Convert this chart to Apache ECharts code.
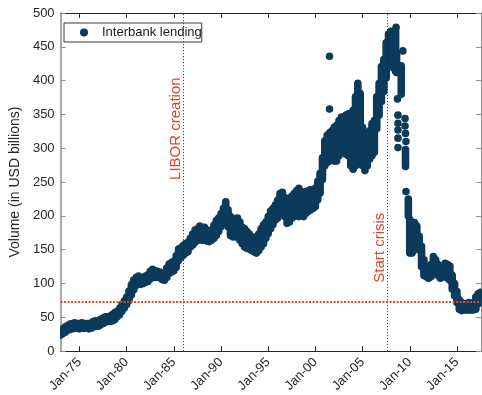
<!DOCTYPE html>
<html>
<head>
<meta charset="utf-8">
<script src="https://cdn.jsdelivr.net/npm/echarts@6/dist/echarts.min.js"></script>
<style>
  html, body { margin: 0; padding: 0; background: #fff; }
  #chart { width: 482px; height: 395px; }
</style>
</head>
<body>
<div id="chart"></div>
<script>
// Interbank lending volume (USD billions). Each entry: time (decimal year),
// lowest and highest weekly observation around that time.
const years = [
  1973.0, 1973.25, 1973.5, 1973.75, 1974.0, 1974.25, 1974.5, 1974.75,
  1975.0, 1975.25, 1975.5, 1975.75, 1976.0, 1976.25, 1976.5, 1976.75,
  1977.0, 1977.25, 1977.5, 1977.75, 1978.0, 1978.25, 1978.5, 1978.75,
  1979.0, 1979.25, 1979.5, 1979.75, 1980.0, 1980.25, 1980.5, 1980.75,
  1981.0, 1981.25, 1981.5, 1981.75, 1982.0, 1982.25, 1982.5, 1982.75,
  1983.0, 1983.25, 1983.5, 1983.75, 1984.0, 1984.25, 1984.5, 1984.75,
  1985.0, 1985.25, 1985.5, 1985.75, 1986.0, 1986.25, 1986.5, 1986.75,
  1987.0, 1987.25, 1987.5, 1987.75, 1988.0, 1988.25, 1988.5, 1988.75,
  1989.0, 1989.25, 1989.5, 1989.75, 1990.0, 1990.25, 1990.5, 1990.75,
  1991.0, 1991.25, 1991.5, 1991.75, 1992.0, 1992.25, 1992.5, 1992.75,
  1993.0, 1993.25, 1993.5, 1993.75, 1994.0, 1994.25, 1994.5, 1994.75,
  1995.0, 1995.25, 1995.5, 1995.75, 1996.0, 1996.25, 1996.5, 1996.75,
  1997.0, 1997.25, 1997.5, 1997.75, 1998.0, 1998.25, 1998.5, 1998.75,
  1999.0, 1999.25, 1999.5, 1999.75, 2000.0, 2000.25, 2000.5, 2000.75,
  2001.0, 2001.25, 2001.5, 2001.75, 2002.0, 2002.25, 2002.5, 2002.75,
  2003.0, 2003.25, 2003.5, 2003.75, 2004.0, 2004.25, 2004.5, 2004.75,
  2005.0, 2005.25, 2005.5, 2005.75, 2006.0, 2006.25, 2006.5, 2006.75,
  2007.0, 2007.25, 2007.5, 2007.75, 2008.0, 2008.25, 2008.5, 2008.6,
  2009.1, 2009.55, 2009.85,
  2010.0, 2010.25, 2010.5, 2010.75, 2011.0, 2011.25, 2011.5, 2011.75,
  2012.0, 2012.25, 2012.5, 2012.75, 2013.0, 2013.25, 2013.5, 2013.75,
  2014.0, 2014.25, 2014.5, 2014.75, 2015.0, 2015.25, 2015.5, 2015.75,
  2016.0, 2016.25, 2016.5, 2016.75, 2017.0, 2017.25, 2017.5
];
const volLow = [
  24, 26, 28, 31, 32, 33, 34, 34,
  33, 34, 34, 34, 33, 34, 36, 37,
  37, 39, 41, 43, 44, 44, 45, 47,
  51, 54, 59, 64, 69, 75, 83, 91,
  97, 99, 99, 100, 102, 103, 107, 109,
  109, 110, 109, 106, 105, 109, 115, 117,
  119, 124, 134, 139, 142, 145, 147, 154,
  157, 161, 164, 165, 164, 166, 163, 162,
  164, 167, 171, 177, 184, 189, 199, 184,
  171, 169, 169, 171, 164, 159, 154, 152,
  151, 149, 147, 145, 149, 154, 159, 167,
  174, 181, 187, 194, 197, 204, 207, 199,
  189, 191, 197, 199, 201, 199, 204, 199,
  204, 207, 209, 211, 214, 224, 234, 254,
  274, 279, 281, 284, 281, 281, 289, 299,
  294, 291, 289, 274, 269, 274, 289, 294,
  274, 267, 274, 284, 289, 294, 329, 349,
  369, 384, 404, 424, 429, 419, 414, 412,
  380, 273, 200,
  145, 145, 150, 155, 150, 125, 112, 110,
  108, 110, 115, 118, 112, 108, 110, 112,
  108, 105, 92, 82, 72, 62, 60, 61,
  61, 61, 61, 61, 62, 70, 75
];
const volHigh = [
  31, 33, 36, 38, 40, 41, 42, 41,
  41, 42, 41, 41, 40, 42, 44, 45,
  44, 47, 49, 51, 51, 52, 54, 57,
  59, 63, 69, 74, 80, 89, 98, 105,
  109, 111, 109, 109, 111, 113, 118, 121,
  119, 118, 117, 115, 115, 123, 129, 131,
  133, 141, 151, 153, 156, 159, 161, 167,
  173, 179, 181, 185, 181, 183, 179, 177,
  179, 186, 193, 197, 203, 211, 221, 209,
  199, 193, 196, 197, 191, 183, 181, 177,
  173, 169, 166, 169, 173, 181, 187, 191,
  199, 207, 211, 216, 223, 233, 235, 227,
  223, 226, 229, 233, 237, 241, 236, 233,
  236, 237, 239, 237, 241, 251, 263, 286,
  311, 319, 323, 326, 331, 334, 341, 346,
  346, 349, 351, 346, 356, 376, 396, 381,
  331, 321, 316, 326, 336, 341, 376, 396,
  421, 431, 456, 469, 473, 471, 475, 440,
  422, 298, 225,
  195, 175, 190, 185, 170, 155, 135, 125,
  122, 128, 140, 135, 128, 122, 125, 130,
  128, 126, 112, 100, 88, 76, 72, 70,
  70, 72, 70, 72, 80, 85, 87
];
// Single observations away from the main band
const outlierYears = [2001.5, 2001.5, 2008.55, 2009.27, 2008.7,
  2008.75, 2008.75, 2008.75, 2008.75, 2008.75,
  2009.5, 2009.5, 2009.55, 2009.6, 2009.6];
const outlierVals = [436, 358, 479, 444, 373,
  349, 337, 327, 315, 301,
  344, 333, 322, 310, 236];

const xTicks = [1975, 1980, 1985, 1990, 1995, 2000, 2005, 2010, 2015];
const liborYear = 1986.0;
const crisisYear = 2007.58;
const referenceLevel = 73.5;

const dotColor = '#0b3a5a';
const noteColor = '#d9472b';
const fontFamily = '"Liberation Sans", Arial, Helvetica, sans-serif';

const bandData = years.map((t, i) => [t, volLow[i], volHigh[i]]);
outlierYears.forEach((t, i) => bandData.push([t, outlierVals[i], outlierVals[i]]));

const chart = echarts.init(document.getElementById('chart'), null, { renderer: 'canvas' });

const xMin = 1973.0, xMax = 2017.55;
const tickStyle = { show: true, inside: true, length: 5, lineStyle: { color: '#262626', width: 1 } };

chart.setOption({
  animation: false,
  backgroundColor: '#fff',
  textStyle: { fontFamily: fontFamily },
  grid: { left: 54, right: 1, top: 13, bottom: 43, containLabel: false },
  legend: {
    left: 64, top: 23,
    padding: [3, 0, 3, 16],
    borderColor: '#3a3a3a', borderWidth: 1, borderRadius: 0,
    itemWidth: 8, itemHeight: 8,
    textStyle: { fontSize: 13, color: '#1a1a1a', fontFamily: fontFamily, padding: [0, 0, 0, 9] },
    data: [{ name: 'Interbank lending', icon: 'circle', itemStyle: { color: dotColor } }]
  },
  xAxis: [{
    type: 'value', min: xMin, max: xMax, position: 'bottom',
    axisLine: { show: true, onZero: false, lineStyle: { color: '#262626', width: 1 } },
    axisTick: Object.assign({}, tickStyle, { customValues: xTicks }),
    axisLabel: {
      customValues: xTicks, rotate: 45, margin: 9, fontSize: 13, color: '#262626',
      fontFamily: fontFamily,
      formatter: v => 'Jan-' + String(Math.round(v) % 100).padStart(2, '0')
    },
    splitLine: { show: false }
  }, {
    type: 'value', min: xMin, max: xMax, position: 'top',
    axisLine: { show: true, onZero: false, lineStyle: { color: '#262626', width: 1 } },
    axisTick: Object.assign({}, tickStyle, { customValues: xTicks }),
    axisLabel: { show: false },
    splitLine: { show: false }
  }],
  yAxis: [{
    type: 'value', min: 0, max: 500, interval: 50, position: 'left',
    name: 'Volume (in USD billions)', nameLocation: 'middle', nameGap: 32,
    nameTextStyle: { fontSize: 14, color: '#262626', fontFamily: fontFamily },
    axisLine: { show: true, onZero: false, lineStyle: { color: '#8c8c8c', width: 1.5 } },
    axisTick: { show: true, inside: true, length: 5, lineStyle: { color: '#8c8c8c' } },
    axisLabel: { fontSize: 13, color: '#262626', margin: 6, fontFamily: fontFamily },
    splitLine: { show: false }
  }, {
    type: 'value', min: 0, max: 500, interval: 50, position: 'right',
    axisLine: { show: true, onZero: false, lineStyle: { color: '#8c8c8c', width: 1 } },
    axisTick: { show: true, inside: true, length: 5, lineStyle: { color: '#8c8c8c' } },
    axisLabel: { show: false },
    splitLine: { show: false }
  }],
  series: [{
    name: 'Interbank lending',
    type: 'custom',
    xAxisIndex: 0, yAxisIndex: 0,
    clip: true,
    itemStyle: { color: dotColor },
    encode: { x: 0, y: [1, 2] },
    data: bandData,
    renderItem: function (params, api) {
      // Each entry is drawn as a stack of overlapping round markers: a
      // capsule spanning the observed range at that time.
      const t = api.value(0);
      const lo = api.coord([t, api.value(1)]);
      const hi = api.coord([t, api.value(2)]);
      const r = 3.8;
      return {
        type: 'rect',
        shape: { x: lo[0] - r, y: hi[1] - r, width: 2 * r, height: (lo[1] - hi[1]) + 2 * r, r: r },
        style: { fill: api.visual('color') }
      };
    },
    markLine: {
      silent: true, symbol: 'none', animation: false,
      label: { show: false },
      data: [
        { xAxis: liborYear, lineStyle: { color: '#222', type: [1, 2], width: 1 } },
        { xAxis: crisisYear, lineStyle: { color: '#222', type: [1, 2], width: 1 } },
        { yAxis: referenceLevel, lineStyle: { color: '#dd4a1c', type: [2, 1.5], width: 2 } }
      ]
    }
  }]
});

// Event annotations, placed next to their vertical lines
function placeNotes() {
  const a = chart.convertToPixel({ xAxisIndex: 0, yAxisIndex: 0 }, [liborYear, 329]);
  const b = chart.convertToPixel({ xAxisIndex: 0, yAxisIndex: 0 }, [crisisYear, 153]);
  const note = (p, txt) => ({
    type: 'text', x: p[0] - 7, y: p[1], rotation: Math.PI / 2,
    style: {
      text: txt, fill: noteColor, fontSize: 15, fontFamily: fontFamily,
      align: 'center', verticalAlign: 'middle'
    },
    silent: true
  });
  chart.setOption({ graphic: [note(a, 'LIBOR creation'), note(b, 'Start crisis')] });
}
placeNotes();
</script>
</body>
</html>
